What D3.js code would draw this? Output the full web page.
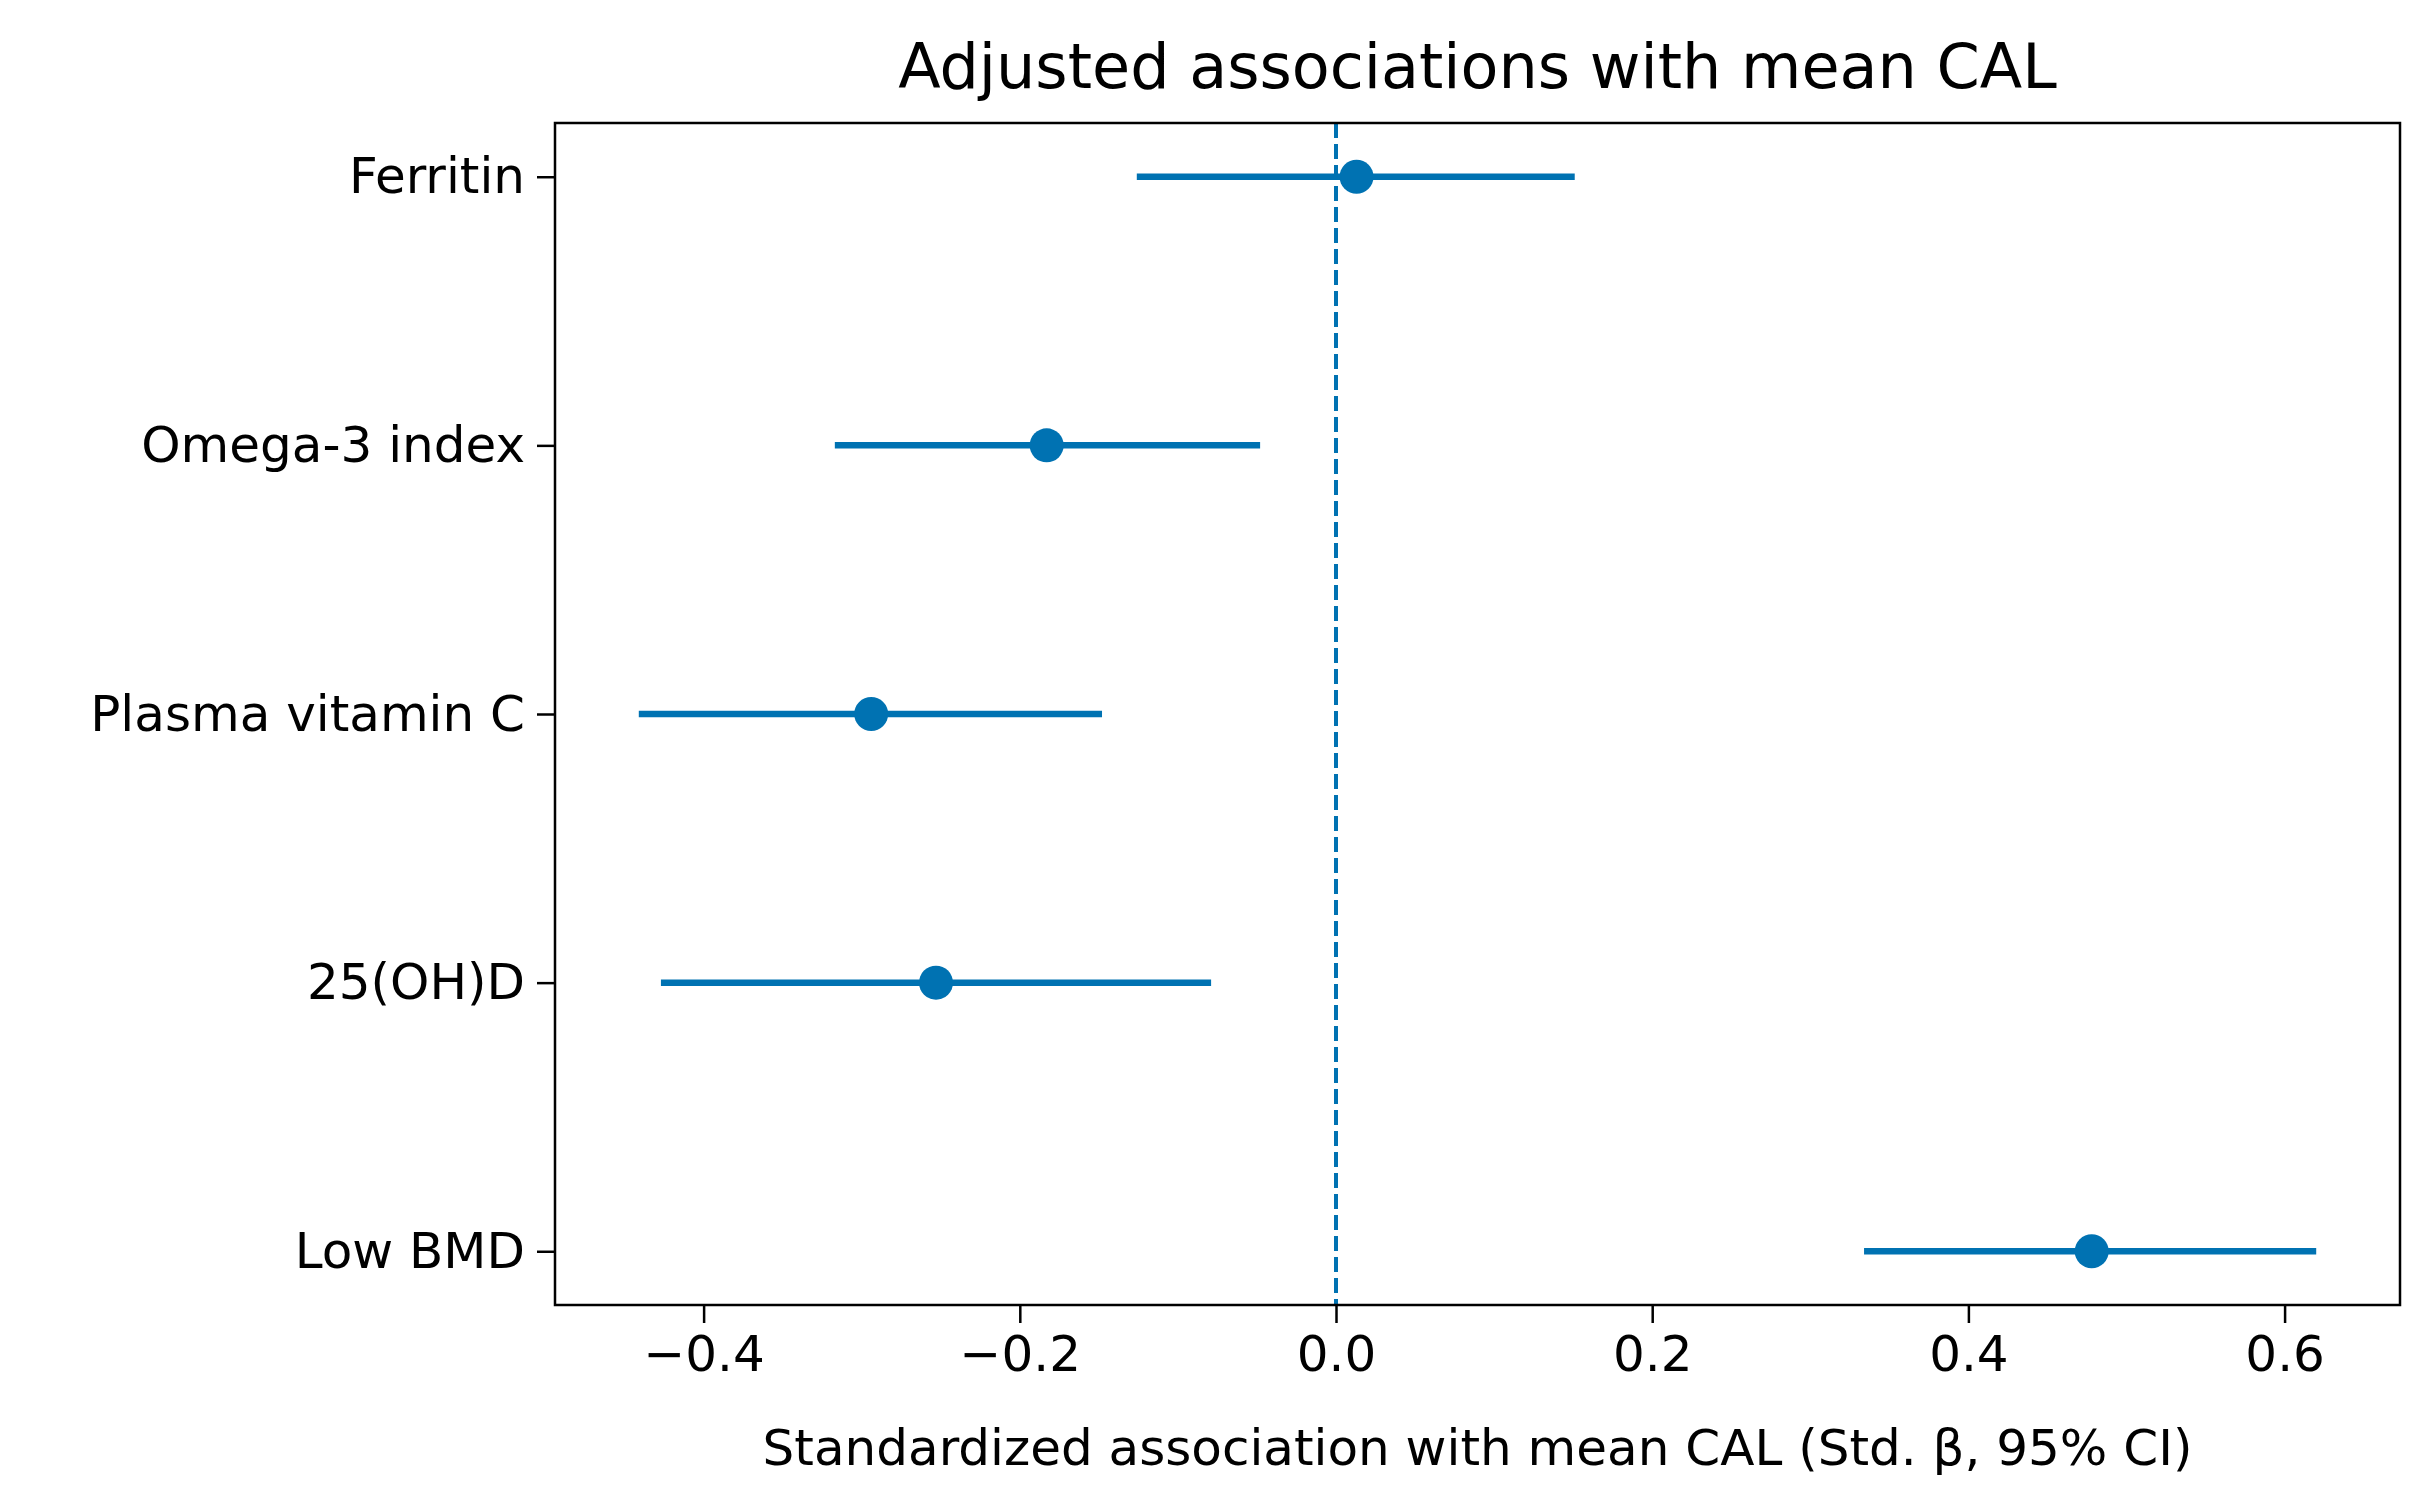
<!DOCTYPE html>
<html><head><meta charset="utf-8">
<script src="https://cdn.jsdelivr.net/npm/d3@7"></script>
<style>body{margin:0;background:#fff}text{font-family:"DejaVu Sans",sans-serif;fill:#000}</style>
</head><body><svg id="c" width="2426" height="1509"></svg>
<script>
// datos
const categories = ['Ferritin', 'Omega-3 index', 'Plasma vitamin C', '25(OH)D', 'Low BMD'];
const estimates = [0.013, -0.183, -0.294, -0.253, 0.478];
const lower = [-0.126, -0.317, -0.441, -0.427, 0.334];
const upper = [0.151, -0.048, -0.148, -0.079, 0.620];
const xTicks = [-0.4, -0.2, 0.0, 0.2, 0.4, 0.6];

const color = '#0072B2';
const m = {left: 555, right: 2400, top: 123, bottom: 1305};
const svg = d3.select('#c');

const x = d3.scaleLinear().domain([-0.494, 0.673]).range([m.left, m.right]);
const y = d3.scaleLinear().domain([-0.2, 4.2]).range([m.top, m.bottom]);

// eje X
const gx = svg.append('g').attr('transform', `translate(0,${m.bottom})`)
  .call(d3.axisBottom(x).tickValues(xTicks).tickSize(18).tickPadding(12)
    .tickFormat(d => d3.format('.1f')(d).replace('-', '\u2212')));
gx.select('.domain').remove();
gx.selectAll('line').attr('stroke', '#000').attr('stroke-width', 2.5);
gx.selectAll('text').style('font-size', '50px');

// eje Y
const gy = svg.append('g').attr('transform', `translate(${m.left},0)`)
  .call(d3.axisLeft(y).tickValues(d3.range(categories.length)).tickSize(18).tickPadding(12)
    .tickFormat(i => categories[i]));
gy.select('.domain').remove();
gy.selectAll('line').attr('stroke', '#000').attr('stroke-width', 2.5);
gy.selectAll('text').style('font-size', '50px');

// línea de referencia
svg.append('line').attr('x1', x(0)).attr('x2', x(0)).attr('y1', m.top).attr('y2', m.bottom)
  .attr('stroke', color).attr('stroke-width', 4).attr('stroke-dasharray', '15,6');

// intervalos y puntos
svg.selectAll('.ci').data(categories).enter().append('line')
  .attr('x1', (d, i) => x(lower[i])).attr('x2', (d, i) => x(upper[i]))
  .attr('y1', (d, i) => y(i)).attr('y2', (d, i) => y(i))
  .attr('stroke', color).attr('stroke-width', 6.5);
svg.selectAll('.pt').data(categories).enter().append('circle')
  .attr('cx', (d, i) => x(estimates[i])).attr('cy', (d, i) => y(i)).attr('r', 17)
  .attr('fill', color);

// marco
svg.append('rect').attr('x', m.left).attr('y', m.top).attr('width', m.right - m.left)
  .attr('height', m.bottom - m.top).attr('fill', 'none').attr('stroke', '#000').attr('stroke-width', 2.5);

svg.append('text').attr('x', (m.left + m.right) / 2).attr('y', 88).attr('text-anchor', 'middle')
  .style('font-size', '62px').text('Adjusted associations with mean CAL');
svg.append('text').attr('x', (m.left + m.right) / 2).attr('y', 1465).attr('text-anchor', 'middle')
  .style('font-size', '50px').text('Standardized association with mean CAL (Std. \u03b2, 95% CI)');
</script></body></html>
